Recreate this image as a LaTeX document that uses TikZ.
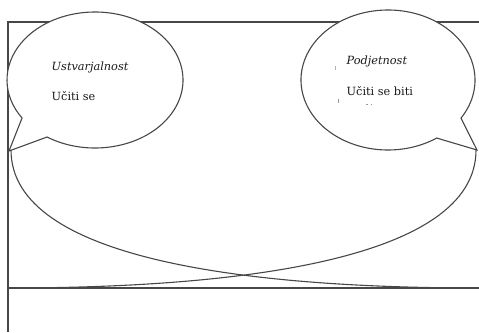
\documentclass[tikz,border=0pt]{standalone}
\usepackage{fontspec}
\setmainfont{DejaVu Serif}
\begin{document}
\begin{tikzpicture}[x=1pt,y=1pt,
  ln/.style={draw=black!72,line width=1.1pt},
  bubble/.style={ln,fill=white,line join=miter},
  lbl/.style={anchor=base west,inner sep=0pt,text=black!90,font=\fontsize{11.3}{13}\selectfont}]
\useasboundingbox (0,0) rectangle (479,-332);
% frame
\coordinate (tl) at (8,-22);
\coordinate (tr) at (479,-22);
\coordinate (bl) at (8,-332);
\coordinate (ml) at (8,-288);
\coordinate (mr) at (479,-288);
\draw[ln] (tr) -- (tl) -- (bl);
\draw[ln] (ml) -- (mr);
% tips
\coordinate (ltip) at (9,-151);
\coordinate (rtip) at (477,-150);
% crossing curves
\draw[ln] (11,-150) .. controls (11,-260) and (250,-288) .. (mr);
\draw[ln] (476,-150) .. controls (476,-260) and (237,-288) .. (ml);
% left bubble
\draw[bubble] (95,-80) ++(237:88 and 68)
  arc[start angle=237,end angle=574,x radius=88,y radius=68] -- (ltip) -- cycle;
% right bubble
\draw[bubble] (388,-80) ++(327:87 and 70)
  arc[start angle=327,end angle=664,x radius=87,y radius=70] -- (rtip) -- cycle;
% texts
\node[lbl] (t1) at (51.5,-70.7) {\itshape Ustvarjalnost};
\node[lbl] (t2) at (51.5,-100.8) {Učiti se};
\node[lbl] (t3) at (346.5,-64.2) {\itshape Podjetnost};
\node[lbl] (t4) at (346.5,-95) {Učiti se biti};
% faint fragments
\draw[black!30,line width=0.6pt] (335,-66) -- (335,-70);
\draw[black!40,line width=0.7pt] (338,-99) -- (338,-103);
\draw[black!40,line width=0.7pt] (366,-104) -- (368,-104) (371,-104) -- (372,-104);
\end{tikzpicture}
\end{document}
